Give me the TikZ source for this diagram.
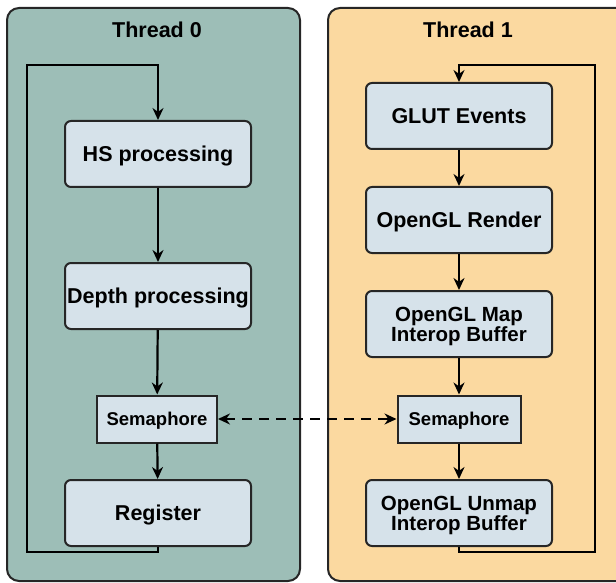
\documentclass[tikz,border=0pt]{standalone}
\usepackage{fontspec}
\setmainfont{Liberation Sans}
\usetikzlibrary{arrows.meta}
\definecolor{leftbg}{RGB}{157,190,183}
\definecolor{rightbg}{RGB}{251,217,160}
\definecolor{boxbg}{RGB}{214,226,234}
\tikzset{
  panel/.style={draw=black!85, line width=2pt, rounded corners=12pt},
  procbox/.style={draw=black!85, line width=2pt, fill=boxbg, rounded corners=6pt, minimum width=186pt, minimum height=66pt, align=center, font=\fontsize{21.5}{26}\selectfont\bfseries, inner sep=0pt, text depth=0pt},
  twoline/.style={font=\fontsize{20.5}{20}\selectfont\bfseries},
  sembox/.style={draw=black!85, line width=2pt, fill=boxbg, minimum height=47pt, inner xsep=9pt, font=\fontsize{18.5}{22}\selectfont\bfseries, text depth=0pt},
  title/.style={font=\fontsize{21.5}{26}\selectfont\bfseries, text depth=0pt},
  flow/.style={line width=2.2pt, -{Stealth[length=12pt,width=11pt]}},
}
\begin{document}
\begin{tikzpicture}[x=1pt,y=-1pt]
\useasboundingbox (0,0) rectangle (616,583);
\begin{scope}
\clip (0,0) rectangle (616,583);
\draw[panel, fill=leftbg] (7,8) rectangle (300,581);
\draw[panel, fill=rightbg] (328,8) rectangle (640,581);
\end{scope}
\node[title] (t0) at (157,30) {Thread 0};
\node[title] (t1) at (468,30) {Thread 1};

\node[procbox] (hs) at (158,154) {HS processing};
\node[procbox] (depth) at (158,296) {Depth processing};
\node[sembox, minimum width=120pt] (sem0) at (157,419) {Semaphore};
\node[procbox] (reg) at (158,513) {Register};

\node[procbox] (glut) at (459,116) {GLUT Events};
\node[procbox] (render) at (459,220) {OpenGL Render};
\node[procbox, twoline] (map) at (459,324) {OpenGL Map\\Interop Buffer};
\node[sembox, minimum width=123pt] (sem1) at (459,419) {Semaphore};
\node[procbox, twoline] (unmap) at (459,513) {OpenGL Unmap\\Interop Buffer};

\coordinate (l1) at (158,552);
\coordinate (l2) at (27,552);
\coordinate (l3) at (27,65);
\coordinate (l4) at (158,65);
\coordinate (r1) at (459,552);
\coordinate (r2) at (595,552);
\coordinate (r3) at (595,65);
\coordinate (r4) at (459,65);

\draw[flow] (hs) -- (depth);
\draw[flow] (depth) -- (sem0);
\draw[flow] (sem0) -- (reg);
\draw[flow] (reg.south) -- (l1) -- (l2) -- (l3) -- (l4) -- (hs.north);

\draw[flow] (glut) -- (render);
\draw[flow] (render) -- (map);
\draw[flow] (map) -- (sem1);
\draw[flow] (sem1) -- (unmap);
\draw[flow] (unmap.south) -- (r1) -- (r2) -- (r3) -- (r4) -- (glut.north);

\draw[line width=2.2pt, dash pattern=on 10pt off 7pt, {Stealth[length=12pt,width=11pt]}-{Stealth[length=12pt,width=11pt]}] (sem0) -- (sem1);
\end{tikzpicture}
\end{document}
